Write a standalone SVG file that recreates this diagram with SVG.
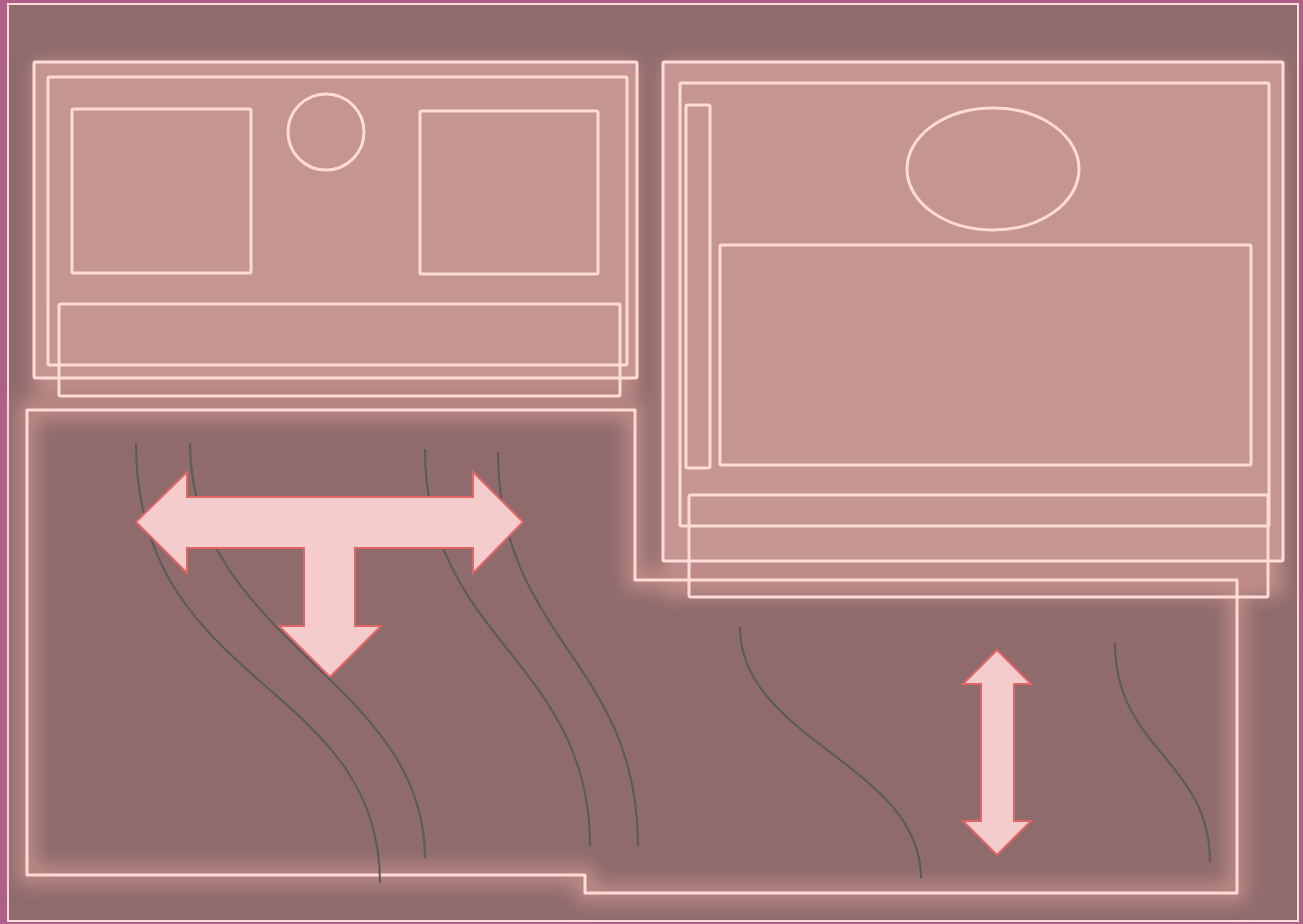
<svg xmlns="http://www.w3.org/2000/svg" width="1303" height="924" viewBox="0 0 1303 924">
<style>
.ln{fill:none;stroke:#ffdcd8;stroke-width:3;stroke-linejoin:round}
.room{fill:#c49593;stroke:#ffdcd8;stroke-width:3}
.cv{fill:none;stroke:#5a5a5a;stroke-width:2}
.ar{fill:#f5cccc;stroke:#e06666;stroke-width:2;stroke-linejoin:miter}
</style>
<defs>
<filter id="blur" x="-20%" y="-20%" width="140%" height="140%"><feGaussianBlur stdDeviation="9"/></filter>
</defs>
<rect x="0" y="0" width="1303" height="924" fill="#ae5f8a"/>
<rect x="8" y="4" width="1290" height="917" fill="#8f6b6b" stroke="#ffdcd8" stroke-width="2"/>
<g id="glow" filter="url(#blur)">
<rect x="34" y="62" width="603" height="334" fill="#c08c8a"/>
<rect x="663" y="62" width="620" height="535" fill="#c08c8a"/>
<path d="M27,410 H635 V580 H1237 V893 H585 V875 H27 Z" fill="none" stroke="#c08c8a" stroke-width="18"/>
</g>
<g id="room-upper-left">
<rect class="room" x="34" y="62" width="603" height="316" rx="1.5"/>
<rect class="ln" x="48" y="77" width="579" height="288" rx="1.5"/>
<rect class="ln" x="72" y="109" width="179" height="164" rx="1.5"/>
<circle class="ln" cx="326" cy="132" r="38"/>
<rect class="ln" x="420" y="111" width="178" height="163" rx="1.5"/>
<rect class="ln" x="59" y="304" width="561" height="92" rx="1.5"/>
</g>
<g id="room-upper-right">
<rect class="room" x="663" y="62" width="620" height="499" rx="1.5"/>
<rect class="ln" x="680" y="83" width="589" height="443" rx="1.5"/>
<rect class="ln" x="686" y="105" width="24" height="363" rx="1.5"/>
<ellipse class="ln" cx="993" cy="169" rx="86" ry="61"/>
<rect class="ln" x="720" y="245" width="531" height="220" rx="1.5"/>
<rect class="ln" x="689" y="495" width="579" height="102" rx="1.5"/>
</g>
<g id="room-lower">
<path class="ln" d="M27,410 H635 V580 H1237 V893 H585 V875 H27 Z"/>
</g>
<g id="connectors">
<path class="cv" d="M136,443 C136,690 380,680 380,883"/>
<path class="cv" d="M190,443 C190,640 425,680 425,858"/>
<path class="cv" d="M425,449 C425,640 590,660 590,846"/>
<path class="cv" d="M498,452 C498,640 638,660 638,846"/>
<path class="cv" d="M740,627 C740,740 921,765 921,878"/>
<path class="cv" d="M1115,643 C1115,750 1210,760 1210,862"/>
</g>
<g id="arrow-t">
<path class="ar" d="M136,522 L187,472 V497 H473 V472 L523,522 L473,573 V548 H355 V626 H381 L330,677 L279,626 H304 V548 H187 V573 Z"/>
</g>
<g id="arrow-v">
<path class="ar" d="M997,650 L1031,684 H1014 V821 H1031 L997,855 L963,821 H981 V684 H963 Z"/>
</g>
</svg>
